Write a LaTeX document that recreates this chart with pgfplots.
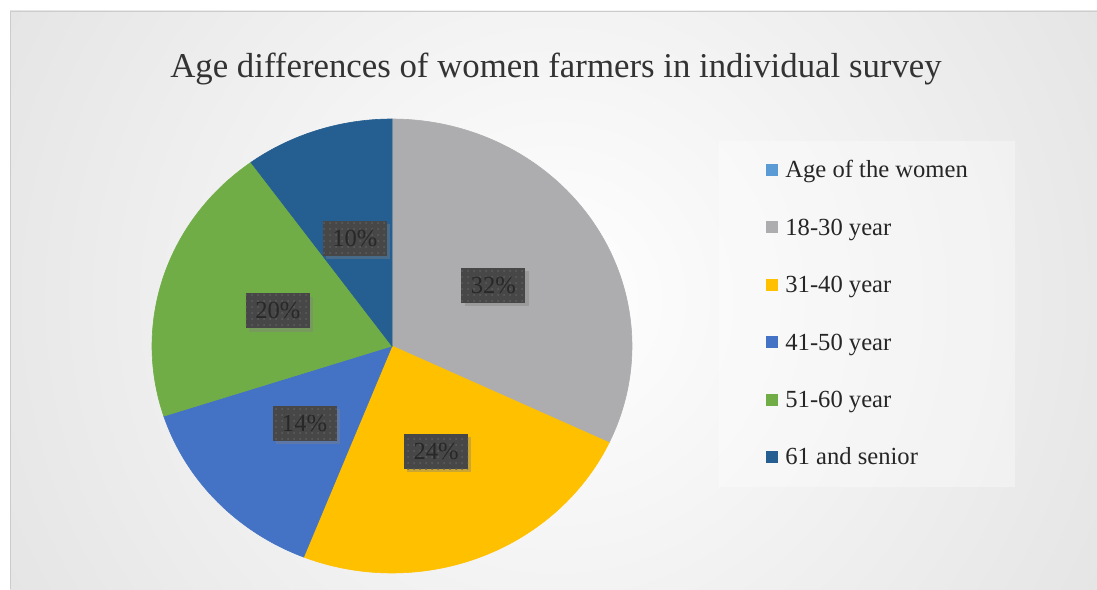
\documentclass[border=0pt]{standalone}
\usepackage{fontspec}
\setmainfont{Liberation Serif}
\usepackage{pgfplots}
\pgfplotsset{compat=1.18}
\usetikzlibrary{patterns,shadows}

% slice colours
\definecolor{sliceSky}{HTML}{5B9BD5}
\definecolor{sliceGray}{HTML}{ADADAF}
\definecolor{sliceYellow}{HTML}{FFC000}
\definecolor{sliceBlue}{HTML}{4472C4}
\definecolor{sliceGreen}{HTML}{70AD47}
\definecolor{sliceNavy}{HTML}{255E91}
% label boxes
\definecolor{boxFill}{HTML}{474747}
\definecolor{boxDot}{HTML}{5E5E5E}
\definecolor{boxText}{HTML}{282828}
% chart area
\definecolor{bgIn}{HTML}{FFFFFF}
\definecolor{bgOut}{HTML}{C4C4C4}

\newcommand\lblfont{\fontsize{12.3}{14}\selectfont}

\tikzset{lbl/.style={fill=boxFill, postaction={pattern=dots, pattern color=boxDot},
    text=boxText, minimum width=32pt, minimum height=17.5pt, inner sep=0pt,
    font=\lblfont,
    drop shadow={shadow xshift=1.6pt, shadow yshift=-1.6pt, opacity=0.4}}}

\begin{document}
\begin{tikzpicture}
% page and chart area (radial: light centre, grey corners)
\fill[white, use as bounding box] (0,0) rectangle (548.5pt,294.5pt);
\begin{scope}
  \clip (5pt,0) rectangle (548.5pt,289pt);
  \fill[bgOut] (5pt,0) rectangle (548.5pt,289pt);
  \shade[inner color=bgIn, outer color=bgOut] (277.5pt,144.5pt) circle (700pt);
\end{scope}
\draw[gray!40, line width=0.4pt] (5pt,0) -- (5pt,289pt) -- (548.5pt,289pt);

\begin{axis}[
  at={(0,0)}, anchor=south west,
  scale only axis, width=548.5pt, height=294.5pt,
  xmin=0, xmax=1097, ymin=0, ymax=589,
  hide axis, clip=false,
]
% title
\node[anchor=base, text=black!80, font=\fontsize{17.4}{20}\selectfont]
  at (axis cs:556,511) {Age differences of women farmers in individual survey};

% pie: share (percent) / colour, clockwise from 12 o'clock
\xdef\angA{90}
\foreach \v/\c in {32/sliceGray, 24/sliceYellow, 14/sliceBlue, 20/sliceGreen, 10/sliceNavy} {
  \pgfmathsetmacro\angB{\angA-3.6*\v}
  \edef\temp{\noexpand\addplot[fill=\c, draw=\c, line width=0.3pt, domain=\angB:\angA, samples=90]
    ({392+240*cos(x)},{243+227*sin(x)}) -- (axis cs:392,243) -- cycle;}
  \temp
  \xdef\angA{\angB}
}

% value labels at half radius on each slice's middle angle
\xdef\angA{90}
\foreach \v in {32, 24, 14, 20, 10} {
  \pgfmathsetmacro\angB{\angA-3.6*\v}
  \pgfmathsetmacro\mid{(\angA+\angB)/2}
  \pgfmathsetmacro\lx{392+120*cos(\mid)}
  \pgfmathsetmacro\ly{243+113.5*sin(\mid)}
  \edef\temp{\noexpand\node[lbl] at (axis cs:\lx,\ly) {\v\noexpand\%};}
  \temp
  \xdef\angA{\angB}
}

% legend
\fill[white, opacity=0.35] (axis cs:719,102) rectangle (axis cs:1015,448);
\fill[sliceSky]    (axis cs:766,413)   rectangle (axis cs:778,425);
\fill[sliceGray]   (axis cs:766,355.6) rectangle (axis cs:778,367.6);
\fill[sliceYellow] (axis cs:766,298.2) rectangle (axis cs:778,310.2);
\fill[sliceBlue]   (axis cs:766,240.8) rectangle (axis cs:778,252.8);
\fill[sliceGreen]  (axis cs:766,183.4) rectangle (axis cs:778,195.4);
\fill[sliceNavy]   (axis cs:766,126)   rectangle (axis cs:778,138);
\begin{scope}[every node/.style={anchor=base west, inner sep=0pt, text=black!85, font=\lblfont}]
\node at (axis cs:785,411) {Age of the women};
\node at (axis cs:785,353.6) {18-30 year};
\node at (axis cs:785,296.2) {31-40 year};
\node at (axis cs:785,238.8) {41-50 year};
\node at (axis cs:785,181.4) {51-60 year};
\node at (axis cs:785,124) {61 and senior};
\end{scope}
\end{axis}
\end{tikzpicture}
\end{document}
